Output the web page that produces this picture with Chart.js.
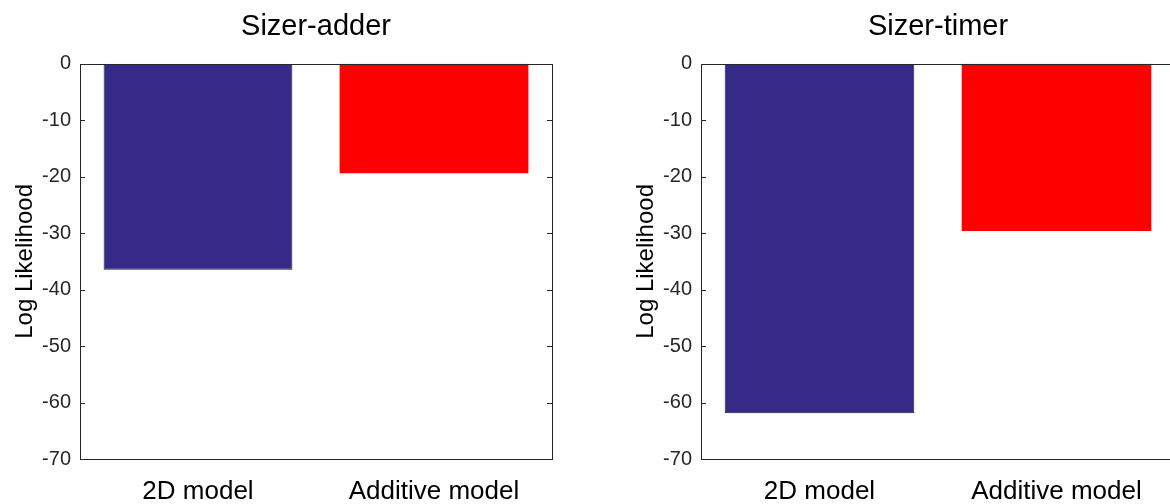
<!DOCTYPE html>
<html>
<head>
<meta charset="utf-8">
<script src="https://cdn.jsdelivr.net/npm/chart.js@4"></script>
<style>
  html, body { margin: 0; background: #fff; overflow: hidden; width: 1170px; height: 504px; }
  .box { position: absolute; top: 0; height: 504px; }
  #leftBox { left: 0; width: 560px; }
  #rightBox { left: 621px; width: 560px; }
</style>
</head>
<body>
<div class="box" id="leftBox"><canvas id="sizerAdder"></canvas></div>
<div class="box" id="rightBox"><canvas id="sizerTimer"></canvas></div>
<script>
const labels = ['2D model', 'Additive model'];
const adderValues = [-36.5, -19.4];
const timerValues = [-61.9, -29.6];
const barColors = ['#352a87', '#ff0000'];
const yTicks = [0, -10, -20, -30, -40, -50, -60, -70];

const FONT = "'Liberation Sans', Arial, Helvetica, sans-serif";
const INK = '#262626';

// matlab style box with inward ticks
const boxPlugin = {
  id: 'boxPlugin',
  afterDraw(chart) {
    const { ctx, chartArea: a, scales } = chart;
    const y = scales.y;
    ctx.save();
    ctx.strokeStyle = INK;
    ctx.lineWidth = 1;
    ctx.strokeRect(Math.round(a.left) + 0.5, Math.round(a.top) + 0.5,
      Math.round(a.right - a.left), Math.round(a.bottom - a.top));
    ctx.beginPath();
    y.ticks.forEach(t => {
      const py = Math.round(y.getPixelForValue(t.value)) + 0.5;
      ctx.moveTo(a.left, py); ctx.lineTo(a.left + 5, py);
      ctx.moveTo(a.right, py); ctx.lineTo(a.right - 5, py);
    });
    ctx.stroke();
    ctx.restore();
  }
};

function makeChart(id, title, values, padRight) {
  return new Chart(document.getElementById(id), {
    type: 'bar',
    data: {
      labels: labels,
      datasets: [{
        data: values,
        backgroundColor: barColors,
        borderColor: ['#1a1a40', 'rgba(0,0,0,0)'],
        borderWidth: [1, 0],
        barPercentage: 0.8,
        categoryPercentage: 1.0
      }]
    },
    options: {
      responsive: true,
      maintainAspectRatio: false,
      animation: false,
      layout: { padding: { left: 0, right: padRight, top: 0, bottom: 0 } },
      plugins: {
        legend: { display: false },
        tooltip: { enabled: false },
        title: {
          display: true,
          text: title,
          fullSize: false,
          color: '#000',
          font: { family: FONT, size: 29, weight: 'normal' },
          padding: { top: 10, bottom: 19 }
        }
      },
      scales: {
        x: {
          grid: { display: false, drawTicks: false },
          border: { display: false },
          ticks: { color: '#000', font: { family: FONT, size: 26 }, padding: 17, maxRotation: 0 },
          afterFit(s) { s.height = 45; }
        },
        y: {
          min: -70,
          max: 0,
          grid: { display: false, drawTicks: false },
          border: { display: false },
          afterBuildTicks(s) { s.ticks = yTicks.map(v => ({ value: v })); },
          ticks: { color: INK, font: { family: FONT, size: 20 }, padding: 9 },
          title: {
            display: true,
            text: 'Log Likelihood',
            color: '#000',
            font: { family: FONT, size: 24 },
            padding: { top: 11, bottom: 0 }
          },
          afterFit(s) { s.width = 80; }
        }
      }
    },
    plugins: [boxPlugin]
  });
}

makeChart('sizerAdder', 'Sizer-adder', adderValues, 8);
makeChart('sizerTimer', 'Sizer-timer', timerValues, 6);
</script>
</body>
</html>
